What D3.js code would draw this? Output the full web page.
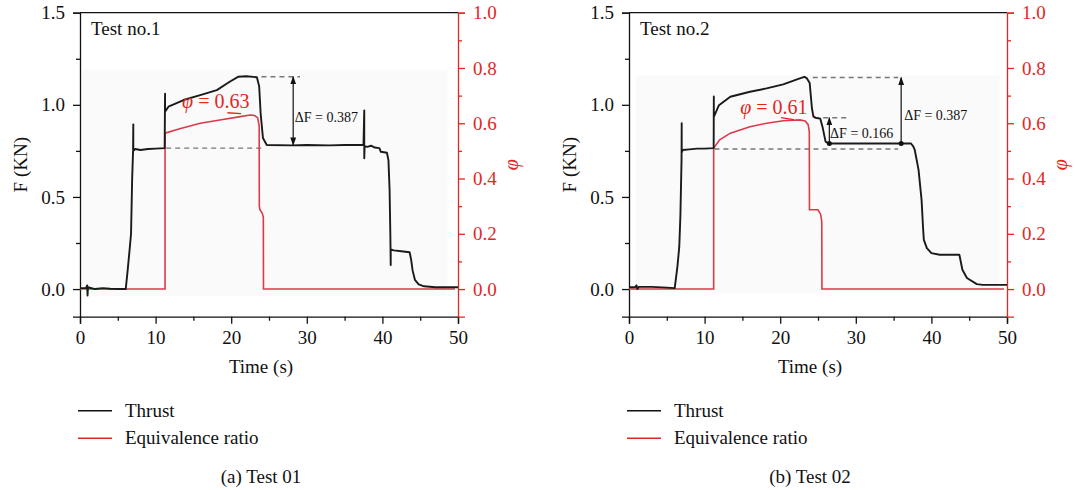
<!DOCTYPE html>
<html>
<head>
<meta charset="utf-8">
<script src="https://cdn.jsdelivr.net/npm/d3@7"></script>
<style>
  body { margin: 0; background: #fff; }
  svg { display: block; font-family: "Liberation Serif", "DejaVu Serif", serif; }
</style>
</head>
<body>
<script>
// time (s), thrust F (kN)
const thrust1 = [
  [0,0.005],[0.8,0.005],[0.95,0.02],[1.0,-0.035],[1.05,0.01],[2,0.0],[3,0.005],[4,0.002],[5,0.0],
  [6.05,0.0],[6.3,0.1],[6.6,0.23],[6.75,0.3],[6.9,0.6],[7.02,0.75],[7.05,0.894],[7.05,0.75],
  [7.3,0.76],[8,0.755],[9,0.76],[10,0.762],[11.2,0.765],[11.25,1.06],[11.25,0.963],[11.7,0.99],
  [13.7,1.026],[15.9,1.053],[18.1,1.08],[19.8,1.125],[20.9,1.152],[22,1.155],[23.4,1.15],
  [23.7,1.10],[23.9,0.95],[24.2,0.82],[24.7,0.782],[28,0.78],[30,0.782],[33,0.78],[35,0.782],
  [37.5,0.782],[37.6,0.97],[37.6,0.71],[37.65,0.775],[38,0.772],[38.5,0.778],[39,0.768],
  [39.6,0.765],[39.8,0.745],[40.6,0.74],[40.8,0.7],[40.95,0.54],[41.05,0.3],[41.1,0.13],
  [41.1,0.215],[41.5,0.21],[42.5,0.205],[43.6,0.2],[43.8,0.16],[44.0,0.1],[44.3,0.05],
  [44.8,0.025],[45.5,0.015],[47,0.01],[50,0.01]
];
const thrust2 = [
  [0,0.01],[0.8,0.01],[1.0,0.02],[1.1,0.0],[1.3,0.012],[3,0.012],[5,0.008],[6.05,0.005],
  [6.4,0.12],[6.65,0.23],[6.8,0.4],[6.95,0.7],[6.97,0.9],[6.97,0.74],[7.1,0.755],[8,0.758],
  [9,0.762],[10,0.762],[11.2,0.765],[11.22,1.045],[11.22,0.935],[11.9,0.998],[13.4,1.044],
  [16,1.071],[18.2,1.089],[20.4,1.111],[22.6,1.143],[23.2,1.152],[23.5,1.145],[23.9,1.118],
  [24.2,0.98],[24.4,0.936],[24.8,0.928],[25.3,0.925],[25.6,0.88],[26,0.8],[26.4,0.79],
  [30,0.79],[35,0.79],[37.3,0.79],[37.6,0.775],[37.8,0.755],[38.3,0.647],[38.7,0.484],
  [38.9,0.33],[39.0,0.267],[39.4,0.222],[40.0,0.195],[41.1,0.186],[43.7,0.186],[44.1,0.105],
  [44.7,0.06],[46.0,0.027],[46.8,0.023],[50,0.023]
];
// time (s), equivalence ratio
const phi1 = [
  [0,0],[11.25,0],[11.25,0.564],[13.2,0.58],[15.9,0.6],[18.5,0.612],[21.2,0.624],[22.5,0.63],
  [23.1,0.628],[23.5,0.62],[23.7,0.59],[23.72,0.3],[23.8,0.287],[24.1,0.275],[24.25,0.26],
  [24.27,0],[49.6,0]
];
const phi2 = [
  [0,0],[11.2,0],[11.2,0.51],[12,0.54],[13.4,0.564],[16,0.587],[18.2,0.6],[20.4,0.609],
  [22.6,0.612],[23.3,0.608],[23.7,0.595],[23.85,0.57],[23.87,0.287],[25.0,0.287],[25.35,0.27],
  [25.5,0.244],[25.52,0],[49.6,0]
];

const xTicks = [0, 10, 20, 30, 40, 50];
const xMinor = [5, 15, 25, 35, 45];
const fTicks = [0, 0.5, 1.0, 1.5];
const fMinor = [0.25, 0.75, 1.25];
const phiTicks = [0, 0.2, 0.4, 0.6, 0.8, 1.0];
const phiMinor = [0.1, 0.3, 0.5, 0.7, 0.9];

const titles = ["Test no.1", "Test no.2"];
const captions = ["(a) Test 01", "(b) Test 02"];
const legendLabels = ["Thrust", "Equivalence ratio"];
const phiLabels = ["\u03c6 = 0.63", "\u03c6 = 0.61"];

// dashed guide lines: [t1, F1, t2, F2]
const dashes1 = [[24.0,1.152,29.1,1.152],[11.4,0.765,24.2,0.765]];
const dashes2 = [[24.3,1.148,35.6,1.148],[24.5,0.93,29.0,0.93],[11.3,0.76,35.6,0.76]];
// arrows: [t, Fbottom, Ftop, double-headed]
const arrows1 = [[28.2,0.782,1.152,true]];
const arrows2 = [[36.0,0.79,1.148,false],[26.5,0.79,0.93,false]];
// ΔF labels: [t, F, text]
const notes1 = [[28.4,0.905,"\u0394F = 0.387"]];
const notes2 = [[36.4,0.915,"\u0394F = 0.387"],[26.6,0.82,"\u0394F = 0.166"]];

const red = "#e5261f";
const curveRed = "#db3a4a";

const W = 1075, H = 490;
const plotW = 378, plotH = 304, plotTop = 12.7;

const svg = d3.select("body").append("svg")
  .attr("width", W).attr("height", H);

const defs = svg.append("defs");
defs.append("marker").attr("id", "ah")
  .attr("viewBox", "0 0 10 10").attr("refX", 9).attr("refY", 5)
  .attr("markerWidth", 7).attr("markerHeight", 7).attr("orient", "auto-start-reverse")
  .append("path").attr("d", "M0,1.5L10,5L0,8.5Z").attr("fill", "#111");

const drawPanel = (left, p) => {
  const g = svg.append("g").attr("transform", `translate(${left}, ${plotTop})`);

  const x = d3.scaleLinear().domain([0, 50]).range([0, plotW]);
  const yF = d3.scaleLinear().domain([-0.15, 1.5]).range([plotH, 0]);
  const yPhi = d3.scaleLinear().domain([-0.1, 1.0]).range([plotH, 0]);

  // faint grey backdrop of the pasted figure
  g.append("rect")
    .attr("x", x(p.bg[0])).attr("y", yF(p.bg[1]))
    .attr("width", x(p.bg[2]) - x(p.bg[0])).attr("height", yF(p.bg[3]) - yF(p.bg[1]))
    .attr("fill", "#fafafa");

  // top frame
  g.append("line").attr("x1", 0).attr("x2", plotW).attr("y1", 0).attr("y2", 0)
    .attr("stroke", "#111").attr("stroke-width", 1.3);

  const styleAxis = (sel, color) => {
    sel.selectAll("path").attr("stroke", color).attr("stroke-width", 1.3);
    sel.selectAll("line").attr("stroke", color).attr("stroke-width", 1.3);
    sel.selectAll("text").attr("fill", color).attr("font-size", 19)
      .attr("font-family", "Liberation Serif, serif");
  };

  const xa = g.append("g").attr("transform", `translate(0, ${plotH})`)
    .call(d3.axisBottom(x).tickValues(xTicks).tickSize(7).tickPadding(7).tickFormat(d3.format("d")));
  styleAxis(xa, "#111");
  const xm = g.append("g").attr("transform", `translate(0, ${plotH})`)
    .call(d3.axisBottom(x).tickValues(xMinor).tickSize(4).tickFormat(""));
  xm.select(".domain").remove();
  styleAxis(xm, "#111");

  const ya = g.append("g")
    .call(d3.axisLeft(yF).tickValues(fTicks).tickSize(7).tickPadding(8).tickFormat(d3.format(".1f")));
  styleAxis(ya, "#111");
  const ym = g.append("g").call(d3.axisLeft(yF).tickValues(fMinor).tickSize(4).tickFormat(""));
  ym.select(".domain").remove();
  styleAxis(ym, "#111");

  const ra = g.append("g").attr("transform", `translate(${plotW}, 0)`)
    .call(d3.axisRight(yPhi).tickValues(phiTicks).tickSize(7).tickPadding(8).tickFormat(d3.format(".1f")));
  styleAxis(ra, red);
  const rm = g.append("g").attr("transform", `translate(${plotW}, 0)`)
    .call(d3.axisRight(yPhi).tickValues(phiMinor).tickSize(4).tickFormat(""));
  rm.select(".domain").remove();
  styleAxis(rm, red);

  // guide lines
  g.selectAll(".dash").data(p.dashes).enter().append("line")
    .attr("x1", d => x(d[0])).attr("y1", d => yF(d[1]))
    .attr("x2", d => x(d[2])).attr("y2", d => yF(d[3]))
    .attr("stroke", "#777").attr("stroke-width", 1.4).attr("stroke-dasharray", "5,4");

  // curves
  const fLine = d3.line().x(d => x(d[0])).y(d => yF(d[1]));
  const pLine = d3.line().x(d => x(d[0])).y(d => yPhi(d[1]));

  g.append("path").attr("d", pLine(p.phi))
    .attr("fill", "none").attr("stroke", curveRed).attr("stroke-width", 1.6);
  g.append("path").attr("d", fLine(p.thrust))
    .attr("fill", "none").attr("stroke", "#1a1a1a").attr("stroke-width", 1.9)
    .attr("stroke-linejoin", "round");

  // arrows
  g.selectAll(".arr").data(p.arrows).enter().append("line")
    .attr("x1", d => x(d[0])).attr("y1", d => yF(d[1]))
    .attr("x2", d => x(d[0])).attr("y2", d => yF(d[2]))
    .attr("stroke", "#111").attr("stroke-width", 1.2)
    .attr("marker-end", "url(#ah)")
    .attr("marker-start", d => d[3] ? "url(#ah)" : null);
  g.selectAll(".dot").data(p.arrows.filter(d => !d[3])).enter().append("circle")
    .attr("cx", d => x(d[0])).attr("cy", d => yF(d[1])).attr("r", 2.5).attr("fill", "#111");

  g.selectAll(".note").data(p.notes).enter().append("text")
    .attr("x", d => x(d[0])).attr("y", d => yF(d[1]))
    .attr("font-size", 14).attr("fill", "#111").text(d => d[2]);

  // phi label and its leader
  g.append("text").attr("x", x(p.phiLabel[0])).attr("y", yPhi(p.phiLabel[1]))
    .attr("font-size", 20).attr("fill", red)
    .html(`<tspan font-style="italic">\u03c6</tspan>${p.phiLabel[2].slice(1)}`);
  g.append("line")
    .attr("x1", x(p.leader[0])).attr("y1", yPhi(p.leader[1]))
    .attr("x2", x(p.leader[2])).attr("y2", yPhi(p.leader[3]))
    .attr("stroke", red).attr("stroke-width", 1.3);

  // panel title
  g.append("text").attr("x", 11).attr("y", 22).attr("font-size", 19).attr("fill", "#111").text(p.title);

  // axis titles
  g.append("text").attr("transform", `translate(-53, ${plotH / 2}) rotate(-90)`)
    .attr("text-anchor", "middle").attr("font-size", 19).attr("fill", "#111").text("F (KN)");
  g.append("text").attr("transform", `translate(${plotW + 60}, ${plotH / 2}) rotate(-90)`)
    .attr("text-anchor", "middle").attr("font-size", 20).attr("font-style", "italic")
    .attr("fill", red).text("\u03c6");
  g.append("text").attr("x", plotW / 2 - 8).attr("y", 360)
    .attr("text-anchor", "middle").attr("font-size", 19).attr("fill", "#111").text("Time (s)");

  // legend
  const lg = g.append("g").attr("transform", "translate(-2, 398)");
  const legendColors = ["#111", red];
  legendLabels.forEach((lab, i) => {
    lg.append("line").attr("x1", 0).attr("x2", 34).attr("y1", i * 27.5).attr("y2", i * 27.5)
      .attr("stroke", legendColors[i]).attr("stroke-width", 1.5);
    lg.append("text").attr("x", 47).attr("y", i * 27.5 + 6).attr("font-size", 19)
      .attr("fill", "#111").text(lab);
  });

  // caption
  g.append("text").attr("x", plotW / 2 - 8).attr("y", 470)
    .attr("text-anchor", "middle").attr("font-size", 19).attr("fill", "#111").text(p.caption);
};

drawPanel(80, {
  thrust: thrust1, phi: phi1, dashes: dashes1, arrows: arrows1, notes: notes1,
  title: titles[0], caption: captions[0],
  phiLabel: [13.5, 0.655, phiLabels[0]], leader: [19.5, 0.638, 21.3, 0.635],
  bg: [0.3, 1.19, 48.6, -0.04]
});
drawPanel(629, {
  thrust: thrust2, phi: phi2, dashes: dashes2, arrows: arrows2, notes: notes2,
  title: titles[1], caption: captions[1],
  phiLabel: [14.7, 0.635, phiLabels[1]], leader: [20.1, 0.62, 21.8, 0.613],
  bg: [0.9, 1.16, 49.0, -0.02]
});
</script>
</body>
</html>
